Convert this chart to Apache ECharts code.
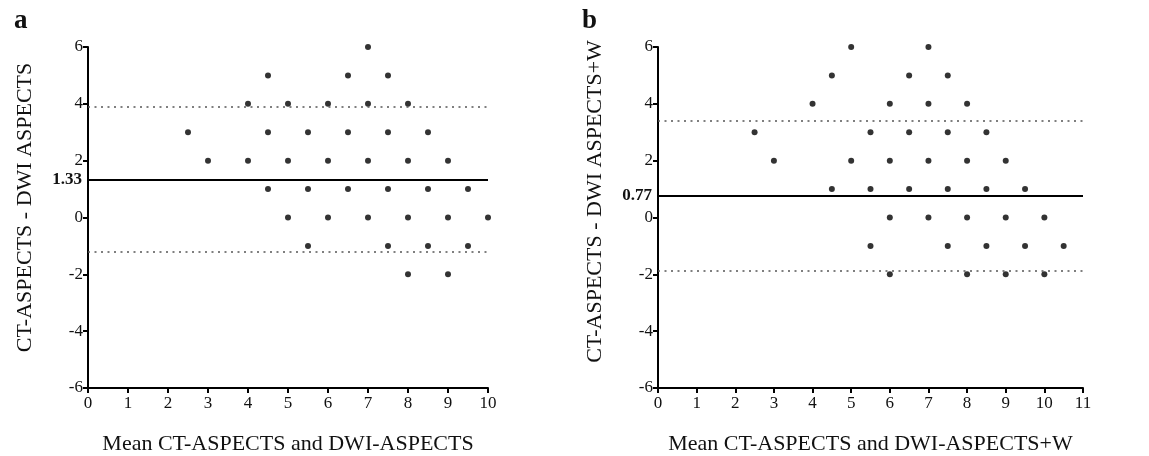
<!DOCTYPE html>
<html>
<head>
<meta charset="utf-8">
<script src="https://cdn.jsdelivr.net/npm/echarts@6/dist/echarts.min.js"></script>
<style>
html, body { margin: 0; padding: 0; background: #fff; }
#chart { width: 1149px; height: 456px; }
</style>
</head>
<body>
<div id="chart"></div>
<script>
// panel a: mean of CT-ASPECTS and DWI-ASPECTS vs difference
var aMean = [7, 4.5, 6.5, 7.5, 4, 5, 6, 7, 8, 2.5, 4.5, 5.5, 6.5, 7.5, 8.5,
    3, 4, 5, 6, 7, 8, 9, 4.5, 5.5, 6.5, 7.5, 8.5, 9.5, 5, 6, 7, 8, 9, 10,
    5.5, 7.5, 8.5, 9.5, 8, 9]
var aDiff = [6, 5, 5, 5, 4, 4, 4, 4, 4, 3, 3, 3, 3, 3, 3,
    2, 2, 2, 2, 2, 2, 2, 1, 1, 1, 1, 1, 1, 0, 0, 0, 0, 0, 0,
    -1, -1, -1, -1, -2, -2]
var aBias = 1.33
var aLimits = [3.88, -1.22]

// panel b: mean of CT-ASPECTS and DWI-ASPECTS+W vs difference
var bMean = [5, 7, 4.5, 6.5, 7.5, 4, 6, 7, 8, 2.5, 5.5, 6.5, 7.5, 8.5,
    3, 5, 6, 7, 8, 9, 4.5, 5.5, 6.5, 7.5, 8.5, 9.5, 6, 7, 8, 9, 10,
    5.5, 7.5, 8.5, 9.5, 10.5, 6, 8, 9, 10]
var bDiff = [6, 6, 5, 5, 5, 4, 4, 4, 4, 3, 3, 3, 3, 3,
    2, 2, 2, 2, 2, 2, 1, 1, 1, 1, 1, 1, 0, 0, 0, 0, 0,
    -1, -1, -1, -1, -1, -2, -2, -2, -2]
var bBias = 0.77
var bLimits = [3.41, -1.87]

function pairs(xs, ys) {
    return xs.map(function (x, i) { return [x, ys[i]] })
}

var serif = 'Liberation Serif'
var axisLine = { show: true, onZero: false, lineStyle: { color: '#000', width: 2 } }
var axisTick = { show: true, length: 5, lineStyle: { color: '#000', width: 2 } }

function xAxisFor(idx, max, title) {
    return {
        type: 'value', gridIndex: idx, min: 0, max: max, interval: 1,
        axisLine: axisLine, axisTick: axisTick, splitLine: { show: false },
        axisLabel: { color: '#111', fontFamily: serif, fontSize: 17, margin: 7 },
        name: title, nameLocation: 'middle', nameGap: 45,
        nameTextStyle: { color: '#111', fontFamily: serif, fontSize: 22 }
    }
}

function yAxisFor(idx, title, shift) {
    return {
        type: 'value', gridIndex: idx, min: -6, max: 6, interval: 2,
        axisLine: axisLine, axisTick: axisTick, splitLine: { show: false },
        axisLabel: { color: '#111', fontFamily: serif, fontSize: 17, margin: 5 },
        name: title, nameLocation: 'middle', nameGap: 52, nameRotate: 90,
        nameTextStyle: { color: '#111', fontFamily: serif, fontSize: 22, padding: [0, 0, 0, shift] }
    }
}

function seriesFor(idx, xs, ys, bias, limits) {
    return {
        type: 'scatter', xAxisIndex: idx, yAxisIndex: idx,
        data: pairs(xs, ys), symbolSize: 6,
        itemStyle: { color: '#000' },
        markLine: {
            silent: true, symbol: 'none', animation: false,
            data: [
                {
                    yAxis: bias,
                    lineStyle: { color: '#000', width: 2, type: 'solid' },
                    label: {
                        show: true, position: 'start', formatter: String(bias),
                        fontFamily: serif, fontWeight: 'bold', fontSize: 17, color: '#111', distance: 6
                    }
                },
                { yAxis: limits[0], lineStyle: { color: '#555', width: 1.5, type: [2, 4.5] }, label: { show: false } },
                { yAxis: limits[1], lineStyle: { color: '#555', width: 1.5, type: [2, 4.5] }, label: { show: false } }
            ]
        }
    }
}

var chart = echarts.init(document.getElementById('chart'))
var option = {
    animation: false,
    backgroundColor: '#fff',
    grid: [
        { left: 88, top: 47, width: 400, height: 341, outerBoundsMode: 'none' },
        { left: 658, top: 47, width: 425, height: 341, outerBoundsMode: 'none' }
    ],
    xAxis: [
        xAxisFor(0, 10, 'Mean CT-ASPECTS and DWI-ASPECTS'),
        xAxisFor(1, 11, 'Mean CT-ASPECTS and DWI-ASPECTS+W')
    ],
    yAxis: [
        yAxisFor(0, 'CT-ASPECTS - DWI ASPECTS', 20),
        yAxisFor(1, 'CT-ASPECTS - DWI ASPECTS+W', 32)
    ],
    graphic: [
        { type: 'text', left: 14, top: 8, style: { text: 'a', font: 'bold 27px "Liberation Serif"', fill: '#111' } },
        { type: 'text', left: 582, top: 8, style: { text: 'b', font: 'bold 27px "Liberation Serif"', fill: '#111' } }
    ],
    series: [
        seriesFor(0, aMean, aDiff, aBias, aLimits),
        seriesFor(1, bMean, bDiff, bBias, bLimits)
    ]
}
chart.setOption(option)
</script>
</body>
</html>
